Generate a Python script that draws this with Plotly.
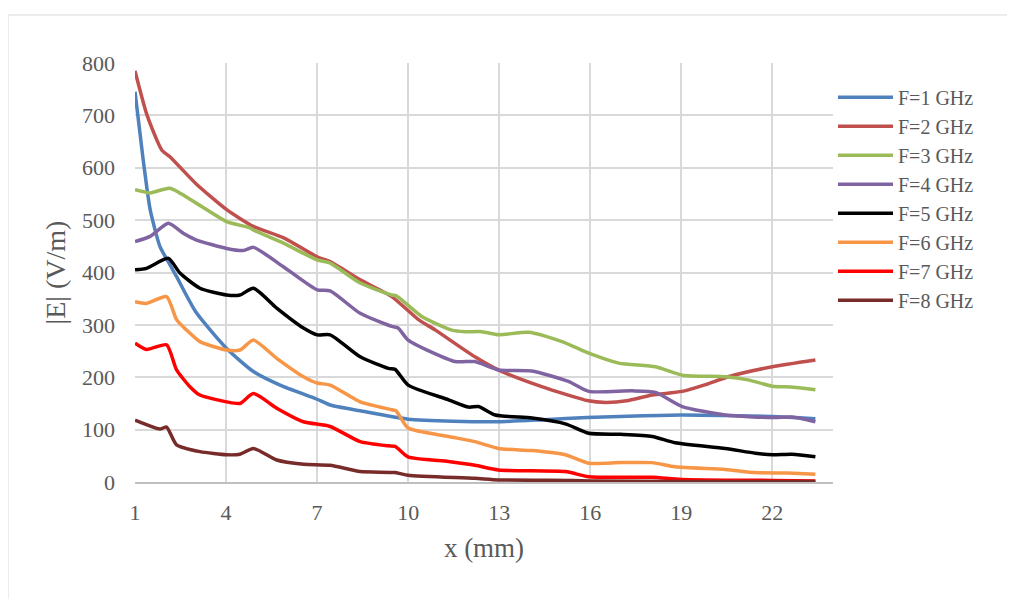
import plotly.graph_objects as go

# ---- data ----
x1 = [1, 1.27, 1.5, 1.82, 2.1, 2.37, 3.0, 4.02, 4.9, 5.78, 7.0, 7.43, 8.42, 10.0, 11.5, 12.97, 14.5, 15.9, 17.5, 19.0, 20.5, 22.0, 23.42]
f1 = [745, 615, 520, 450, 420, 392, 325, 255, 211, 185, 158, 147, 136, 120, 116, 115, 119, 123, 126, 128, 127, 125, 121]

x2 = [1, 1.4, 1.88, 2.15, 3.0, 4.02, 4.9, 5.9, 7.0, 7.43, 8.42, 9.46, 10.34, 10.9, 12.2, 12.97, 14.4, 15.94, 16.5, 17.2, 18.04, 19.03, 19.8, 20.55, 22.0, 23.42]
f2 = [785, 700, 634, 621, 570, 520, 488, 466, 430, 421, 386, 354, 310, 290, 239, 214, 182, 155, 152, 155, 166, 173, 186, 201, 220, 233]

x3 = [1, 1.5, 2.15, 3.03, 4.02, 4.8, 4.9, 5.89, 7.0, 7.43, 8.42, 9.46, 9.6, 10.45, 11.44, 11.88, 12.43, 12.98, 13.97, 15.07, 15.95, 16.94, 18.15, 19.03, 20.45, 21.2, 22.0, 22.7, 23.42]
f3 = [558, 552, 561, 532, 497, 485, 481, 456, 424, 418, 380, 357, 356, 316, 290, 287, 287, 281, 286, 268, 246, 227, 220, 204, 201, 195, 183, 181, 176]

x4 = [1, 1.5, 2.1, 2.59, 3.03, 4.02, 4.57, 4.9, 5.89, 7.0, 7.43, 8.42, 9.46, 9.67, 10.0, 11.55, 12.2, 12.98, 14.07, 15.28, 15.95, 17.38, 18.15, 19.03, 20.45, 22.0, 22.65, 23.42]
f4 = [459, 469, 494, 475, 462, 446, 442, 448, 411, 367, 365, 322, 297, 294, 271, 230, 230, 214, 212, 192, 173, 174, 171, 144, 128, 123, 124, 115]

x5 = [1, 1.38, 2.1, 2.48, 3.14, 4.02, 4.46, 4.9, 5.67, 6.55, 7.0, 7.43, 8.42, 9.35, 9.57, 10.0, 11.33, 11.99, 12.32, 12.87, 14.08, 15.18, 15.95, 17.0, 18.04, 18.8, 20.45, 21.44, 22.0, 22.65, 23.42]
f5 = [405, 408, 427, 399, 370, 357, 357, 370, 332, 294, 281, 281, 239, 217, 215, 185, 157, 143, 144, 128, 122, 111, 93, 91, 87, 75, 64, 55, 52, 53, 48]

x6 = [1, 1.38, 2.04, 2.37, 2.7, 3.14, 4.02, 4.46, 4.9, 5.67, 6.55, 7.0, 7.43, 8.42, 9.46, 9.6, 10.0, 11.33, 12.2, 12.98, 14.08, 15.18, 15.95, 17.0, 18.04, 18.8, 20.45, 21.44, 22.5, 23.42]
f6 = [344, 341, 354, 310, 290, 268, 252, 252, 271, 236, 201, 189, 185, 153, 138, 136, 103, 87, 77, 64, 60, 52, 36, 37, 37, 29, 24, 18, 17, 15]

x7 = [1, 1.38, 2.04, 2.37, 2.81, 3.14, 4.02, 4.46, 4.9, 5.67, 6.55, 7.43, 8.42, 9.35, 9.57, 10.0, 11.33, 12.2, 12.98, 15.18, 15.95, 18.04, 19.0, 22.0, 23.42]
f7 = [265, 253, 262, 214, 182, 166, 153, 150, 169, 141, 115, 106, 77, 69, 68, 48, 39, 32, 23, 20, 10, 9, 5, 3, 2]

x8 = [1, 1.82, 2.04, 2.37, 3.14, 4.02, 4.46, 4.9, 5.67, 6.55, 7.43, 8.42, 9.57, 10.0, 12.2, 12.98, 15.4, 16.0, 19.0, 23.42]
f8 = [118, 101, 105, 71, 58, 52, 53, 64, 42, 34, 32, 20, 18, 13, 7, 4, 3, 2, 1, 1]

names = ["F=1 GHz", "F=2 GHz", "F=3 GHz", "F=4 GHz", "F=5 GHz", "F=6 GHz", "F=7 GHz", "F=8 GHz"]
colors = ["#4F81BD", "#C0504D", "#9BBB59", "#8064A2", "#000000", "#F79646", "#FF0000", "#772C2A"]
xs = [x1, x2, x3, x4, x5, x6, x7, x8]
ys = [f1, f2, f3, f4, f5, f6, f7, f8]

FONT = "Liberation Serif"
TXT = "#595959"

fig = go.Figure()
for xv, yv, n, c in zip(xs, ys, names, colors):
    fig.add_trace(go.Scatter(x=xv, y=yv, name=n, mode="lines",
                             line=dict(color=c, width=3.5, shape="spline", smoothing=0.6)))

fig.update_layout(
    width=1015, height=599,
    margin=dict(l=127, r=190, t=55, b=125),
    paper_bgcolor="white", plot_bgcolor="white",
    font=dict(family=FONT, color=TXT, size=20),
    legend=dict(x=1.0, y=0.965, xanchor="left", yanchor="top",
                font=dict(family=FONT, size=20, color=TXT),
                bgcolor="rgba(0,0,0,0)", tracegroupgap=0, itemwidth=55),
    xaxis=dict(range=[1, 24], tick0=1, dtick=3, showgrid=True, gridcolor="#D9D9D9", gridwidth=1.5,
               showline=True, linecolor="#BFBFBF", linewidth=1.5, zeroline=False,
               ticks="", ticklen=0, ticklabelstandoff=10,
               tickfont=dict(family=FONT, size=22, color=TXT),
               title=dict(text="x (mm)", font=dict(family=FONT, size=27, color=TXT), standoff=14)),
    yaxis=dict(range=[0, 800], dtick=100, showgrid=True, gridcolor="#D9D9D9", gridwidth=1.5,
               showline=False, zeroline=False, ticks="", ticklabelstandoff=19,
               tickfont=dict(family=FONT, size=22, color=TXT),
               title=dict(text="|E| (V/m)", font=dict(family=FONT, size=28, color=TXT), standoff=8)),
)

# outer chart border
fig.add_shape(type="rect", xref="paper", yref="paper",
              x0=-127/698, x1=1.3, y0=-130/419, y1=1 + 48/419,
              line=dict(color="#D9D9D9", width=1), layer="below")

fig.write_html("out.html")
